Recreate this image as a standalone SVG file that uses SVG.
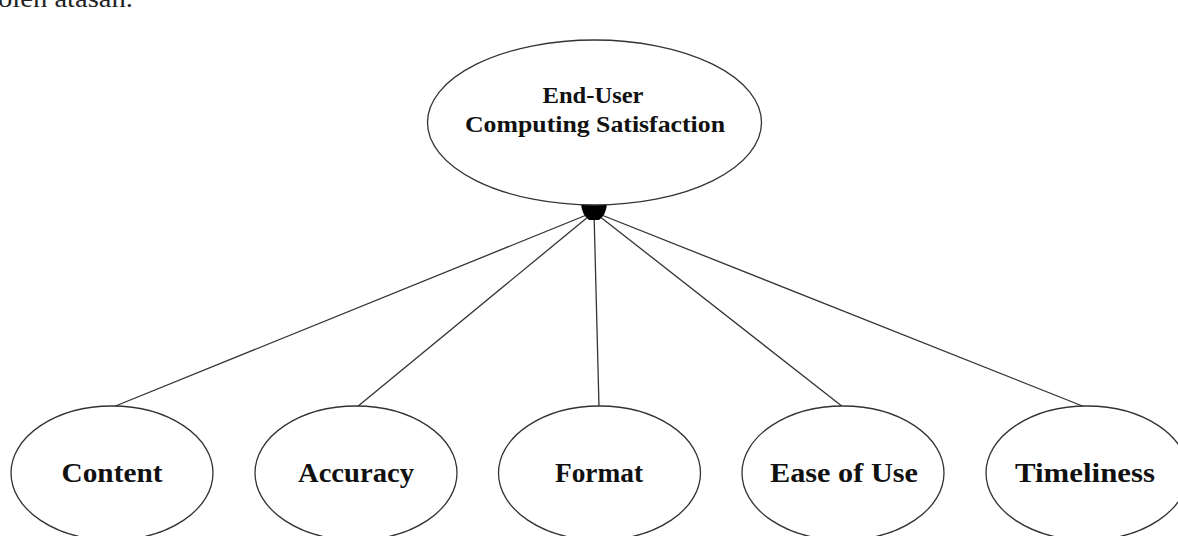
<svg xmlns="http://www.w3.org/2000/svg" width="1178" height="536" viewBox="0 0 1178 536">
<style>
.node ellipse{fill:#fff;stroke:#333;stroke-width:1.3}
.lbl{font-family:"Liberation Serif","Times New Roman",serif;font-weight:bold;fill:#111;text-anchor:middle}
.big{font-size:28px}
.top{font-size:23px}
.conn line{stroke:#333;stroke-width:1.3}
.cap{font-family:"Liberation Serif","Times New Roman",serif;font-size:25px;fill:#222}
</style>
<rect width="1178" height="536" fill="#fff"/>
<text class="cap" x="-2" y="7" textLength="135" lengthAdjust="spacingAndGlyphs">oleh atasan.</text>
<g id="connectors" class="conn">
<line x1="594" y1="212" x2="113" y2="407"/>
<line x1="594" y1="212" x2="357" y2="407"/>
<line x1="594" y1="212" x2="599" y2="407"/>
<line x1="594" y1="212" x2="843" y2="407"/>
<line x1="594" y1="212" x2="1085" y2="407"/>
<path d="M581,204 L607,204 Q606,215 599,220 L589,220 Q582,215 581,204 Z" fill="#000"/>
</g>
<g id="ecs" class="node">
<ellipse cx="594.5" cy="122.5" rx="167" ry="82.5"/>
<text class="lbl top" x="593" y="103" textLength="101" lengthAdjust="spacingAndGlyphs">End-User</text>
<text class="lbl top" x="595" y="132" textLength="260" lengthAdjust="spacingAndGlyphs">Computing Satisfaction</text>
</g>
<g id="content" class="node">
<ellipse cx="112" cy="473" rx="101" ry="67"/>
<text class="lbl big" x="112" y="482" textLength="101" lengthAdjust="spacingAndGlyphs">Content</text>
</g>
<g id="accuracy" class="node">
<ellipse cx="356" cy="473" rx="101" ry="67"/>
<text class="lbl big" x="356" y="482" textLength="116" lengthAdjust="spacingAndGlyphs">Accuracy</text>
</g>
<g id="format" class="node">
<ellipse cx="599.5" cy="473" rx="101" ry="67"/>
<text class="lbl big" x="599" y="482" textLength="88" lengthAdjust="spacingAndGlyphs">Format</text>
</g>
<g id="ease" class="node">
<ellipse cx="843" cy="473" rx="101" ry="67"/>
<text class="lbl big" x="844" y="482" textLength="148" lengthAdjust="spacingAndGlyphs">Ease of Use</text>
</g>
<g id="timeliness" class="node">
<ellipse cx="1087" cy="473" rx="101" ry="67"/>
<text class="lbl big" x="1085" y="482" textLength="140" lengthAdjust="spacingAndGlyphs">Timeliness</text>
</g>
</svg>
